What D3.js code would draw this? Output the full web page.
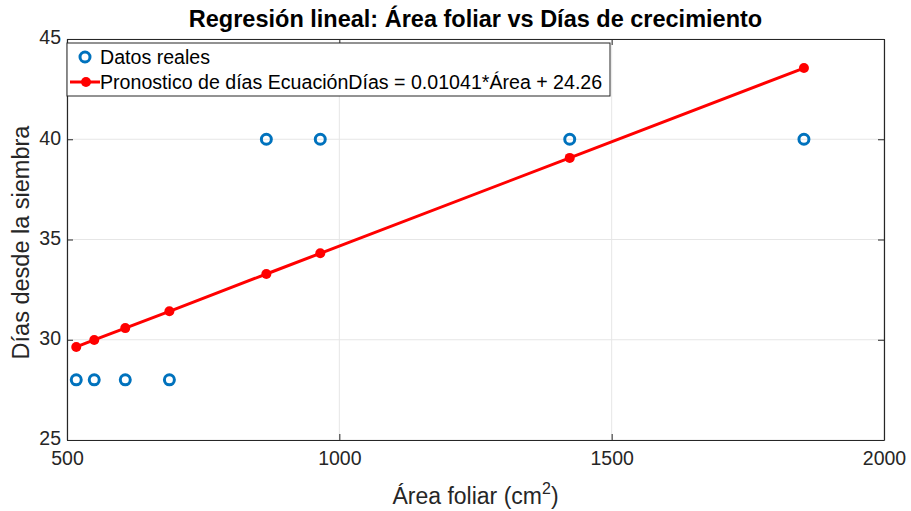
<!DOCTYPE html>
<html><head><meta charset="utf-8">
<script src="https://cdn.jsdelivr.net/npm/d3@7"></script>
<style>body{margin:0;background:#fff}svg{display:block}text{font-family:"Liberation Sans",Arial,sans-serif}</style>
</head><body>
<svg id="c" width="911" height="511"></svg>
<script>
const area = [517, 550, 607, 688, 866, 965, 1423, 1853];
const dias = [28, 28, 28, 28, 40, 40, 40, 40];
const pron = [29.64, 29.99, 30.58, 31.42, 33.28, 34.31, 39.07, 43.55];
const xTicks = [500, 1000, 1500, 2000];
const yTicks = [25, 30, 35, 40, 45];
const title = "Regresión lineal: Área foliar vs Días de crecimiento";
const legendLabels = ["Datos reales", "Pronostico de días EcuaciónDías = 0.01041*Área + 24.26"];

const svg = d3.select("#c");
const L = 67, R = 884, T = 39, B = 440;
const x = d3.scaleLinear().domain([500, 2000]).range([L, R]);
const y = d3.scaleLinear().domain([25, 45]).range([B, T]);
const fmt = d3.format("d");

// grid
svg.append("g").selectAll("line").data(xTicks).join("line")
  .attr("x1", d => x(d)).attr("x2", d => x(d)).attr("y1", T).attr("y2", B)
  .attr("stroke", "#e6e6e6").attr("stroke-width", 1);
svg.append("g").selectAll("line").data(yTicks).join("line")
  .attr("y1", d => y(d)).attr("y2", d => y(d)).attr("x1", L).attr("x2", R)
  .attr("stroke", "#e6e6e6").attr("stroke-width", 1);

// axes
const ax = svg.append("g").attr("transform", `translate(0,${B})`)
  .call(d3.axisBottom(x).tickValues(xTicks).tickFormat(fmt).tickSizeInner(-6).tickSizeOuter(0).tickPadding(11));
const ay = svg.append("g").attr("transform", `translate(${L},0)`)
  .call(d3.axisLeft(y).tickValues(yTicks).tickFormat(fmt).tickSizeInner(-6).tickSizeOuter(0).tickPadding(6));
const axTop = svg.append("g").attr("transform", `translate(0,${T})`)
  .call(d3.axisTop(x).tickValues(xTicks).tickSizeInner(-6).tickSizeOuter(0).tickFormat(""));
const ayR = svg.append("g").attr("transform", `translate(${R},0)`)
  .call(d3.axisRight(y).tickValues(yTicks).tickSizeInner(-6).tickSizeOuter(0).tickFormat(""));
[ax, ay, axTop, ayR].forEach(g => {
  g.select(".domain").attr("stroke", "#262626").attr("stroke-width", 1.2);
  g.selectAll(".tick line").attr("stroke", "#262626");
  g.selectAll(".tick text").attr("font-size", 19.5).attr("fill", "#262626").style("font-family", '"Liberation Sans",Arial,sans-serif');
});
ay.selectAll(".tick text").attr("dy", "0.25em");

// regression line
svg.append("path").datum(area.map((a, i) => [a, pron[i]]))
  .attr("d", d3.line().x(d => x(d[0])).y(d => y(d[1])))
  .attr("fill", "none").attr("stroke", "#ff0000").attr("stroke-width", 3);
svg.append("g").selectAll("circle").data(area.map((a, i) => [a, pron[i]])).join("circle")
  .attr("cx", d => x(d[0])).attr("cy", d => y(d[1])).attr("r", 5).attr("fill", "#ff0000");

// data points
svg.append("g").selectAll("circle").data(area.map((a, i) => [a, dias[i]])).join("circle")
  .attr("cx", d => x(d[0])).attr("cy", d => y(d[1])).attr("r", 5)
  .attr("fill", "none").attr("stroke", "#0072bd").attr("stroke-width", 3);

// legend
const lg = svg.append("g");
lg.append("rect").attr("x", 67).attr("y", 43).attr("width", 543).attr("height", 53)
  .attr("fill", "#fff").attr("stroke", "#262626").attr("stroke-width", 1);
lg.append("circle").attr("cx", 85).attr("cy", 57).attr("r", 5)
  .attr("fill", "none").attr("stroke", "#0072bd").attr("stroke-width", 3);
lg.append("line").attr("x1", 70).attr("x2", 100).attr("y1", 82).attr("y2", 82)
  .attr("stroke", "#ff0000").attr("stroke-width", 3);
lg.append("circle").attr("cx", 86).attr("cy", 82).attr("r", 5).attr("fill", "#ff0000");
lg.selectAll("text").data(legendLabels).join("text")
  .attr("x", 100).attr("y", (d, i) => 64 + i * 25).attr("font-size", 19.6).attr("fill", "#000").text(d => d);

// title and labels
svg.append("text").attr("x", (L + R) / 2).attr("y", 27).attr("text-anchor", "middle")
  .attr("font-size", 23.5).attr("font-weight", "bold").attr("fill", "#000").text(title);
const xl = svg.append("text").attr("x", (L + R) / 2).attr("y", 504).attr("text-anchor", "middle")
  .attr("font-size", 23).attr("fill", "#262626");
xl.append("tspan").text("Área foliar (cm");
xl.append("tspan").attr("dy", -10).attr("font-size", 16).text("2");
xl.append("tspan").attr("dy", 10).text(")");
svg.append("text").attr("transform", `translate(29,${(T + B) / 2 + 3}) rotate(-90)`).attr("text-anchor", "middle")
  .attr("font-size", 23.5).attr("fill", "#262626").text("Días desde la siembra");
</script>
</body></html>
